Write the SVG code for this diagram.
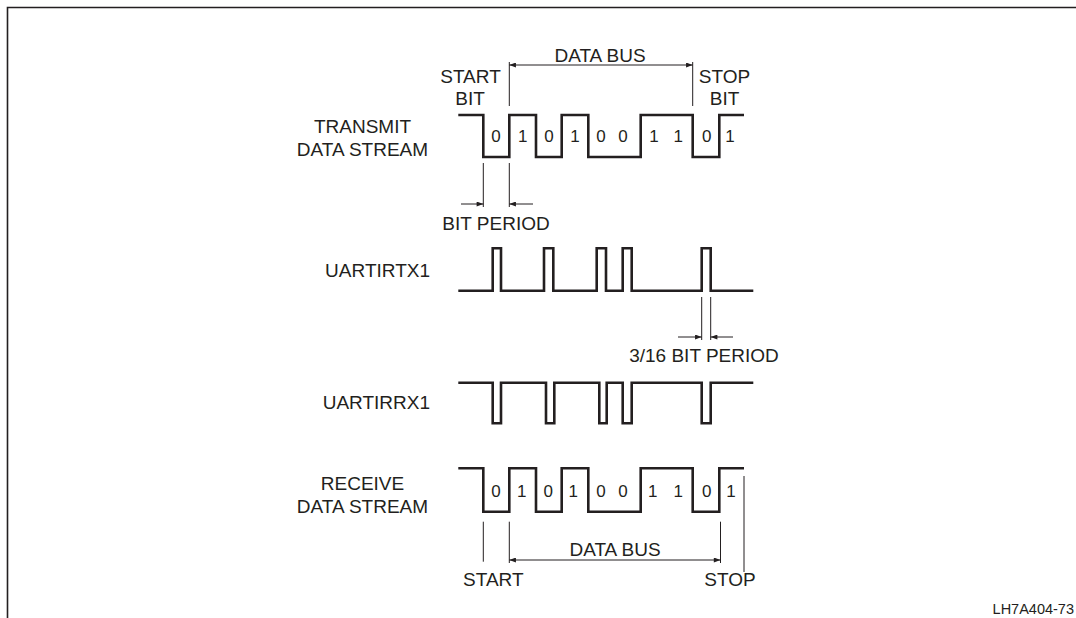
<svg xmlns="http://www.w3.org/2000/svg" width="1076" height="618" viewBox="0 0 1076 618">
<style>
  .lbl{font-family:"Liberation Sans",Arial,sans-serif;font-size:19px;fill:#231f20}
  .dig{font-family:"Liberation Sans",Arial,sans-serif;font-size:17px;fill:#231f20;text-anchor:middle}
  .wave{fill:none;stroke:#231f20;stroke-width:2.6;stroke-linejoin:miter}
  .dim{fill:none;stroke:#231f20;stroke-width:1}
  .arr{fill:none;stroke:#231f20;stroke-width:1;marker-end:url(#ah)}
  .darr{fill:none;stroke:#231f20;stroke-width:1;marker-start:url(#ah);marker-end:url(#ah)}
</style>
<defs>
  <marker id="ah" viewBox="0 0 8 6" refX="8" refY="3" markerWidth="8" markerHeight="5" markerUnits="userSpaceOnUse" orient="auto-start-reverse">
    <path d="M0,0 L8,3 L0,6 z" fill="#231f20"/>
  </marker>
</defs>
<rect width="1076" height="618" fill="#ffffff"/>
<g id="frame">
  <path d="M7.5,618 V7.5 H1076" fill="none" stroke="#231f20" stroke-width="1.6"/>
</g>
<g id="transmit">
  <text class="lbl" x="362.5" y="133" text-anchor="middle">TRANSMIT</text>
  <text class="lbl" x="362.5" y="156" text-anchor="middle">DATA STREAM</text>
  <path class="wave" d="M458.3,115 H483.3 V157 H509.3 V115 H536 V157 H561.7 V115 H588.3 V157 H640.7 V115 H692.7 V157 H719.3 V115 H744"/>
  <text class="dig" x="496" y="142.3">0</text>
  <text class="dig" x="522.7" y="142.3">1</text>
  <text class="dig" x="549" y="142.3">0</text>
  <text class="dig" x="575" y="142.3">1</text>
  <text class="dig" x="601" y="142.3">0</text>
  <text class="dig" x="623" y="142.3">0</text>
  <text class="dig" x="654" y="142.3">1</text>
  <text class="dig" x="678.3" y="142.3">1</text>
  <text class="dig" x="706.7" y="142.3">0</text>
  <text class="dig" x="730" y="142.3">1</text>
  <text class="lbl" x="470.5" y="83.3" text-anchor="middle">START</text>
  <text class="lbl" x="470" y="104.5" text-anchor="middle">BIT</text>
  <text class="lbl" x="724.5" y="83.3" text-anchor="middle">STOP</text>
  <text class="lbl" x="724.5" y="104.5" text-anchor="middle">BIT</text>
  <text class="lbl" x="600" y="62" text-anchor="middle">DATA BUS</text>
  <text class="lbl" x="496" y="230" text-anchor="middle">BIT PERIOD</text>
</g>
<g id="uartirtx1">
  <text class="lbl" x="430" y="277" text-anchor="end">UARTIRTX1</text>
  <path class="wave" d="M458.3,290.7 H492.7 V248.3 H501 V290.7 H544 V248.3 H553.3 V290.7 H596.7 V248.3 H606 V290.7 H622.7 V248.3 H631.7 V290.7 H701.7 V248.3 H710.7 V290.7 H753.3"/>
  <text class="lbl" x="704" y="361.7" text-anchor="middle">3/16 BIT PERIOD</text>
</g>
<g id="uartirrx1">
  <text class="lbl" x="430" y="409.3" text-anchor="end">UARTIRRX1</text>
  <path class="wave" d="M458.3,382.7 H492.7 V423.3 H501 V382.7 H546 V423.3 H554.3 V382.7 H599.3 V423.3 H606.7 V382.7 H622.7 V423.3 H631.7 V382.7 H701.7 V423.3 H710.7 V382.7 H753.3"/>
</g>
<g id="receive">
  <text class="lbl" x="362.5" y="490" text-anchor="middle">RECEIVE</text>
  <text class="lbl" x="362.5" y="513" text-anchor="middle">DATA STREAM</text>
  <path class="wave" d="M458.3,468.3 H483.3 V511.7 H509.3 V468.3 H536 V511.7 H561.7 V468.3 H588.3 V511.7 H640.7 V468.3 H692.7 V511.7 H719.3 V468.3 H744"/>
  <text class="dig" x="496" y="497.3">0</text>
  <text class="dig" x="521.7" y="497.3">1</text>
  <text class="dig" x="548.3" y="497.3">0</text>
  <text class="dig" x="573.3" y="497.3">1</text>
  <text class="dig" x="601" y="497.3">0</text>
  <text class="dig" x="623" y="497.3">0</text>
  <text class="dig" x="652.7" y="497.3">1</text>
  <text class="dig" x="678.3" y="497.3">1</text>
  <text class="dig" x="706.7" y="497.3">0</text>
  <text class="dig" x="731" y="497.3">1</text>
  <text class="lbl" x="615" y="556" text-anchor="middle">DATA BUS</text>
  <text class="lbl" x="493.3" y="586" text-anchor="middle">START</text>
  <text class="lbl" x="730" y="586" text-anchor="middle">STOP</text>
</g>
<g id="connectors">
  <path class="dim" d="M509.3,62 V106 M692.7,62 V106"/>
  <path class="darr" d="M509.3,65 H692.7"/>
  <path class="dim" d="M483.3,163 V207 M509.3,163 V207"/>
  <path class="arr" d="M461,204 H483.3"/>
  <path class="arr" d="M533,204 H509.3"/>
  <path class="dim" d="M701.7,297 V340 M710.7,297 V340"/>
  <path class="arr" d="M678,337 H701.7"/>
  <path class="arr" d="M733,337 H710.7"/>
  <path class="dim" d="M483.3,521.7 V561.7 M509.3,521.7 V563 M720.5,521.7 V563 M744,476 V572"/>
  <path class="darr" d="M509.3,560 H720.5"/>
</g>
<g id="figure-id">
  <text x="1074" y="614" text-anchor="end" style="font-family:'Liberation Sans',Arial,sans-serif;font-size:14.5px;fill:#231f20">LH7A404-73</text>
</g>
</svg>
